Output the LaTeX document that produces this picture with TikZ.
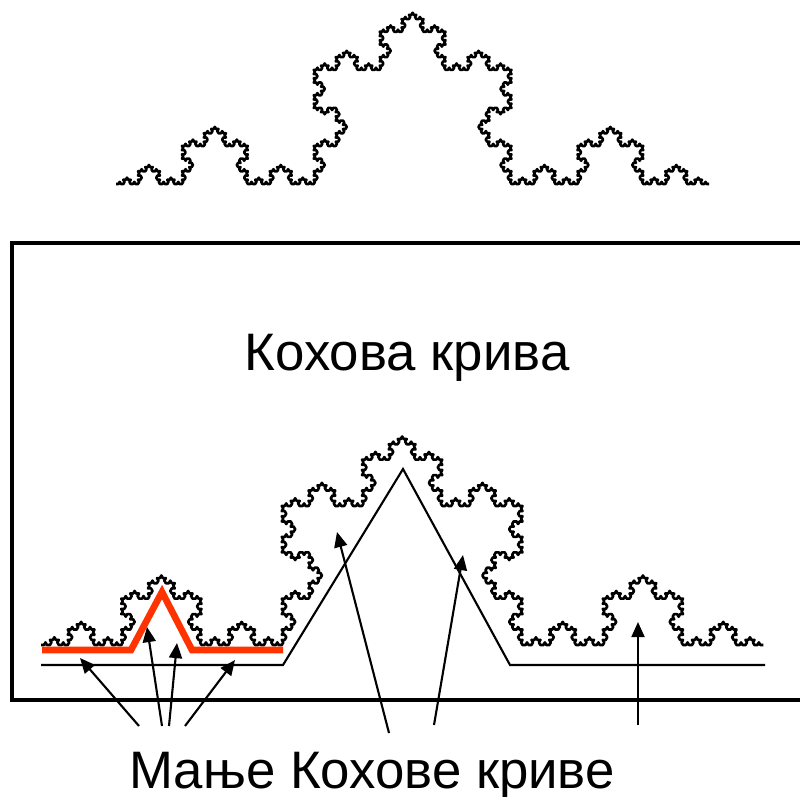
\documentclass[tikz,border=0pt]{standalone}
\usepackage{fontspec}
\setmainfont{Liberation Sans}
\usetikzlibrary{arrows.meta,lindenmayersystems}
\definecolor{kochred}{RGB}{255,51,0}
\pgfdeclarelindenmayersystem{Koch curve}{\rule{F -> F+F--F+F}}
\tikzset{
  frame/.style={line width=0.9pt},
  koch/.style={line width=0.75pt,line join=round},
  approx/.style={line width=0.6pt},
  redapprox/.style={line width=1.9pt,draw=kochred},
  pointer/.style={line width=0.6pt,-{Triangle[length=4.3pt,width=3.7pt]}},
  label/.style={font=\fontsize{15}{18}\selectfont,anchor=base,inner sep=0pt}
}
\begin{document}
\begin{tikzpicture}[x=0.01cm,y=-0.01cm]
            \useasboundingbox (0,0) rectangle (800,797);
            %Curve start points
            \coordinate (k1) at (116,184);
            \coordinate (k2) at (41,645);
            %First approximation
            \coordinate (a1) at (41,665);
            \coordinate (a2) at (283,665);
            \coordinate (a3) at (403,469);
            \coordinate (a4) at (510,665);
            \coordinate (a5) at (765,665);
            %Red approximation
            \coordinate (r1) at (42,650);
            \coordinate (r2) at (131,650);
            \coordinate (r3) at (162,592);
            \coordinate (r4) at (192,650);
            \coordinate (r5) at (283,650);
            %Arrow tips
            \coordinate (t1) at (80,658);
            \coordinate (t2) at (147,627);
            \coordinate (t3) at (177,643);
            \coordinate (t4) at (235,660);
            \coordinate (t5) at (337,532);
            \coordinate (t6) at (463,555);
            \coordinate (t7) at (638,622);
            %Arrow tails
            \coordinate (s1) at (139,726);
            \coordinate (s2) at (162,726);
            \coordinate (s3) at (169,726);
            \coordinate (s4) at (185,726);
            \coordinate (s5) at (389,733);
            \coordinate (s6) at (434,725);
            \coordinate (s7) at (638,725);
            %Box
            \draw[frame] (800,243) -- (12,243) -- (12,700) -- (800,700);
            %Koch curves
            \begin{scope}[shift={(k1)}]
              \draw[koch] l-system [l-system={Koch curve, axiom=F, order=5, step=0.02440cm, angle=60}];
            \end{scope}
            \begin{scope}[shift={(k2)}]
              \draw[koch] l-system [l-system={Koch curve, axiom=F, order=5, step=0.02971cm, angle=60}];
            \end{scope}
            %Approximations
            \draw[approx] (a1) -- (a2) -- (a3) -- (a4) -- (a5);
            \draw[redapprox] (r1) -- (r2) -- (r3) -- (r4) -- (r5);
            %Labels
            \node[label] (title) at (407,370) {Кохова крива};
            \node[label] (parts) at (372,788) {Мање Кохове криве};
            %Arrows
            \draw[pointer] (s1) -- (t1);
            \draw[pointer] (s2) -- (t2);
            \draw[pointer] (s3) -- (t3);
            \draw[pointer] (s4) -- (t4);
            \draw[pointer] (s5) -- (t5);
            \draw[pointer] (s6) -- (t6);
            \draw[pointer] (s7) -- (t7);
\end{tikzpicture}
\end{document}
